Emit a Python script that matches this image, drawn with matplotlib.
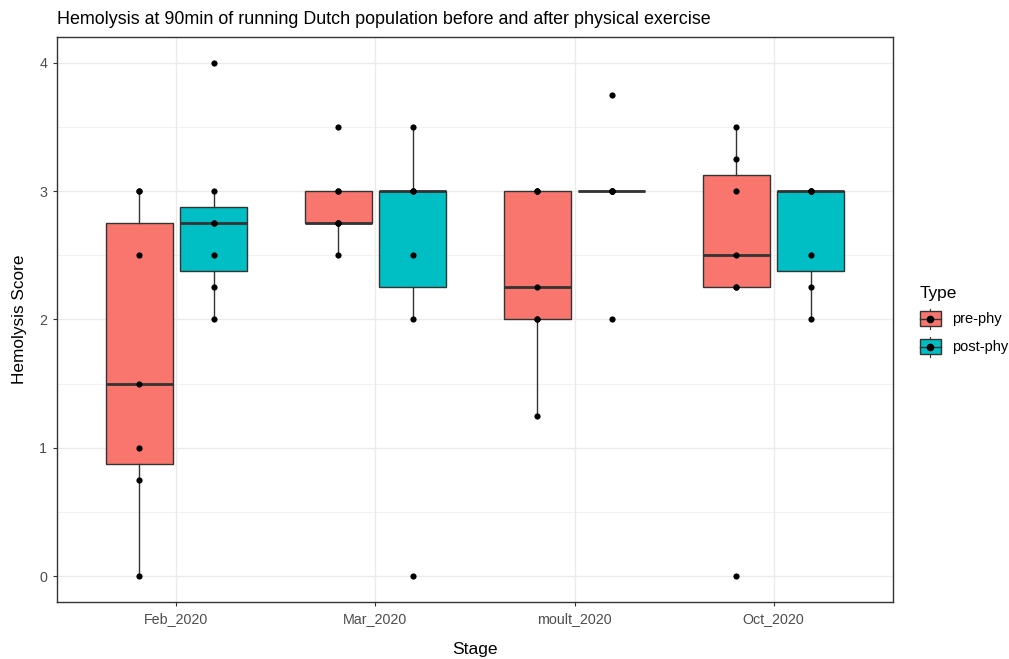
# Boxplot of hemolysis scores by stage, pre vs post physical exercise
import numpy as np
import matplotlib.pyplot as plt
from matplotlib.legend_handler import HandlerBase
from matplotlib.patches import Patch, Rectangle
from matplotlib.lines import Line2D

plt.rcParams['font.family'] = ['Liberation Sans', 'DejaVu Sans']

# Data
stages = ['Feb_2020', 'Mar_2020', 'moult_2020', 'Oct_2020']
types = ['pre-phy', 'post-phy']
pre_phy = [
    [0, 0.75, 1, 1.5, 2.5, 3, 3],
    [2.5, 2.75, 2.75, 2.75, 3, 3, 3.5],
    [1.25, 2, 2, 2.25, 3, 3, 3],
    [0, 2.25, 2.25, 2.5, 3, 3.25, 3.5],
]
post_phy = [
    [2, 2.25, 2.5, 2.75, 2.75, 3, 4],
    [0, 2, 2.5, 3, 3, 3, 3.5],
    [2, 3, 3, 3, 3, 3, 3.75],
    [2, 2.25, 2.5, 3, 3, 3, 3],
]
colors = ['#F8766D', '#00BFC4']

edge = '#333333'
grid_col = '#EBEBEB'

fig = plt.figure(figsize=(10.09, 6.59), dpi=100)
ax = fig.add_axes([57 / 1009, 57 / 659, 836 / 1009, 565 / 659])

x = np.arange(1, len(stages) + 1)
offsets = [-0.1875, 0.1875]
for data, off, col in zip([pre_phy, post_phy], offsets, colors):
    ax.boxplot(data, positions=x + off, widths=0.3375, patch_artist=True,
               showfliers=False, showcaps=False, whis=1.5, zorder=3,
               boxprops=dict(facecolor=col, edgecolor=edge, linewidth=1.0),
               medianprops=dict(color=edge, linewidth=2.0),
               whiskerprops=dict(color=edge, linewidth=1.0))
    for xi, vals in zip(x + off, data):
        ax.scatter([xi] * len(vals), vals, s=20, color='black', zorder=4,
                   linewidths=0)

ax.set_xlim(0.4, 4.6)
ax.set_ylim(-0.2, 4.2)
ax.set_xticks(x)
ax.set_xticklabels(stages)
ax.set_yticks([0, 1, 2, 3, 4])
ax.set_yticks([0.5, 1.5, 2.5, 3.5], minor=True)
ax.grid(True, which='major', color=grid_col, linewidth=1.0, zorder=0)
ax.grid(True, which='minor', axis='y', color=grid_col, linewidth=0.5, zorder=0)
ax.set_axisbelow(True)
ax.tick_params(axis='both', which='major', length=3, width=0.8, color=edge,
               labelsize=10.3, labelcolor='#4D4D4D', pad=4)
ax.tick_params(axis='y', which='minor', length=0)
for sp in ax.spines.values():
    sp.set_color(edge)
    sp.set_linewidth(1.0)

ax.set_title('Hemolysis at 90min of running Dutch population before and after physical exercise',
             loc='left', fontsize=12.9, pad=9)
ax.set_xlabel('Stage', fontsize=12.6, labelpad=12)
ax.set_ylabel('Hemolysis Score', fontsize=12.4, labelpad=9)


class BoxKey(HandlerBase):
    def create_artists(self, legend, orig_handle, xdescent, ydescent,
                       width, height, fontsize, trans):
        fc = orig_handle.get_facecolor()
        cx = width / 2 - xdescent
        b0 = -ydescent + height * 0.14
        b1 = -ydescent + height * 0.86
        whisk_lo = Line2D([cx, cx], [-ydescent, b0], color=edge, lw=0.8)
        whisk_hi = Line2D([cx, cx], [b1, -ydescent + height], color=edge, lw=0.8)
        rect = Rectangle((-xdescent, b0), width, b1 - b0, facecolor=fc,
                         edgecolor=edge, lw=1.0)
        med = Line2D([-xdescent, -xdescent + width], [(b0 + b1) / 2] * 2,
                     color=edge, lw=1.0)
        dot = Line2D([cx], [(b0 + b1) / 2], marker='o', markersize=4.5,
                     color='black', lw=0)
        arts = [whisk_lo, whisk_hi, rect, med, dot]
        for a in arts:
            a.set_transform(trans)
        return arts


handles = [Patch(facecolor=c) for c in colors]
leg = fig.legend(handles, types, title='Type', loc='upper left',
                 bbox_to_anchor=(908 / 1009, 1 - 274 / 659), frameon=False,
                 fontsize=10.5, title_fontsize=12.4, handlelength=1.44,
                 handleheight=1.73, labelspacing=0.55, handletextpad=0.75,
                 borderpad=0.3, handler_map={Patch: BoxKey()})
leg._legend_box.align = 'left'

fig.savefig('out.png', dpi=100)
